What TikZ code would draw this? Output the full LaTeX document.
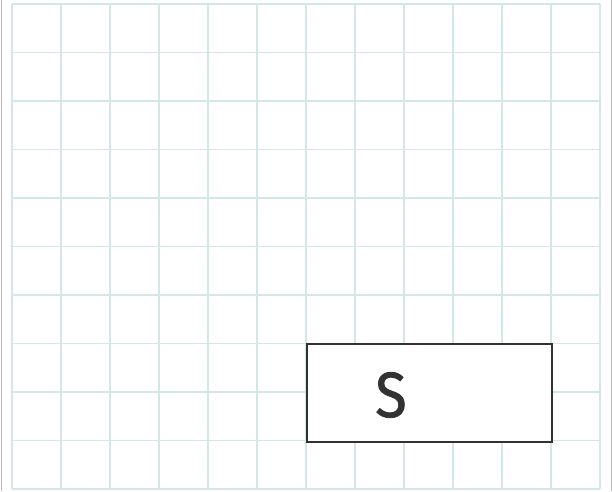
\documentclass[tikz,border=0pt]{standalone}
\usepackage{fontspec}
\newfontfamily\handfont[FakeBold=1.2]{Fira Sans}
\definecolor{gridc}{RGB}{212,230,230}
\definecolor{edgec}{RGB}{185,185,185}
\definecolor{boxc}{RGB}{50,50,50}
\begin{document}
\begin{tikzpicture}[x=1pt,y=-1pt,
  gridline/.style={draw=gridc,line width=1.1pt},
  boxnode/.style={draw=boxc,line width=2pt,fill=white,minimum width=245pt,minimum height=98pt,inner sep=0pt,anchor=north west}]
\useasboundingbox (0,0) rectangle (612,491);
\fill[white] (0,0) rectangle (612,491);
\draw[edgec,line width=1pt] (1,0) -- (1,491);
\draw[edgec,line width=1pt] (611,0) -- (611,491);
\foreach \i in {0,...,12} {
  \draw[gridline] ({12+49*\i},4) -- ({12+49*\i},489);
}
\foreach \j in {0,...,10} {
  \draw[gridline] (12,{4+48.5*\j}) -- (600,{4+48.5*\j});
}
\node[boxnode] (s) at (306,343) {};
\node[font=\handfont\fontsize{64}{64}\selectfont,text=boxc,inner sep=0pt,xscale=0.9] (slabel) at (391,395) {S};
\end{tikzpicture}
\end{document}
